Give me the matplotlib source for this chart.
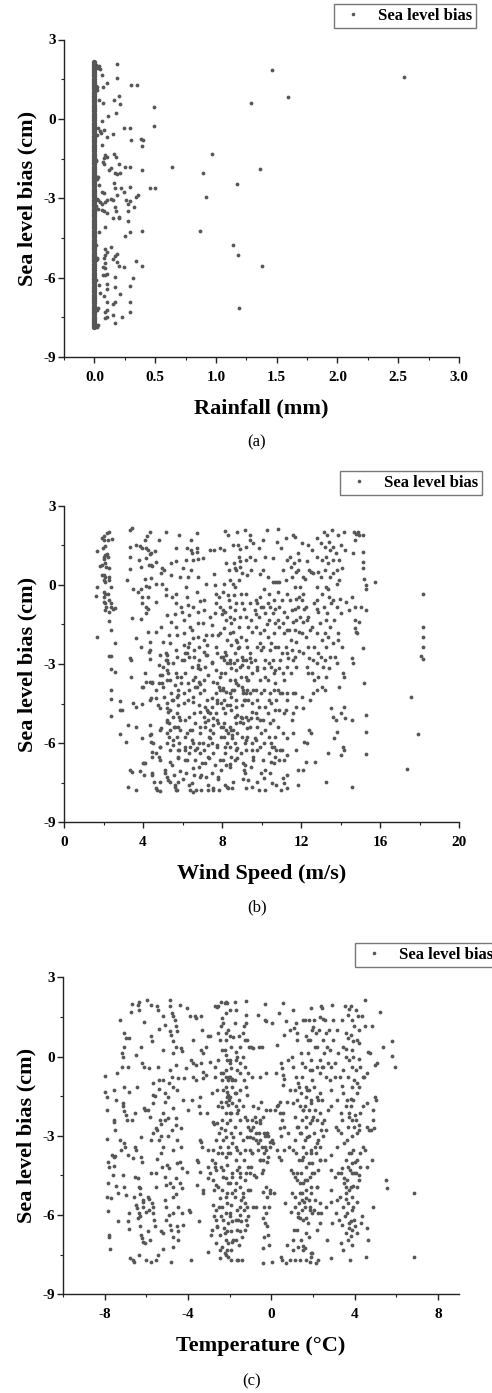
import matplotlib
matplotlib.use("Agg")
import matplotlib.pyplot as plt
from matplotlib.ticker import MultipleLocator, FormatStrFormatter
from matplotlib.lines import Line2D

plt.rcParams['font.family'] = ['Liberation Serif', 'DejaVu Serif']
plt.rcParams['axes.unicode_minus'] = False

# ---------------- data ----------------
# (a) hours with zero rainfall (sea level bias, cm)
rain_zero_y = [2.15, 2.08, 2.01, 1.93, 1.86, 1.77, 1.69, 1.61, 1.52, 1.45, 1.37, 1.28, 1.2, 1.12,
               1.03, 0.95, 0.87, 0.78, 0.7, 0.62, 0.53, 0.45, 0.37, 0.28, 0.2, 0.12, 0.03, -0.05,
               -0.14, -0.22, -0.3, -0.39, -0.47, -0.55, -0.64, -0.72, -0.8, -0.89, -0.97, -1.06,
               -1.14, -1.22, -1.31, -1.39, -1.47, -1.56, -1.64, -1.72, -1.81, -1.89, -1.97, -2.06,
               -2.13, -2.19, -2.24, -2.3, -2.38, -2.47, -2.55, -2.64, -2.72, -2.8, -2.89, -2.97,
               -3.05, -3.14, -3.22, -3.3, -3.39, -3.47, -3.55, -3.64, -3.72, -3.81, -3.89, -3.97,
               -4.06, -4.14, -4.22, -4.31, -4.39, -4.47, -4.56, -4.64, -4.72, -4.81, -4.89, -4.97,
               -5.06, -5.13, -5.2, -5.27, -5.33, -5.39, -5.47, -5.56, -5.64, -5.72, -5.81, -5.89,
               -5.97, -6.06, -6.14, -6.22, -6.31, -6.39, -6.47, -6.56, -6.64, -6.72, -6.81, -6.89,
               -6.97, -7.06, -7.14, -7.22, -7.31, -7.39, -7.47, -7.56, -7.64, -7.72, -7.8, -7.88]

# (a) hours with rainfall: (rainfall mm, bias cm)
rain_pts = [
    (0.01, 2.05), (0.02, 1.97), (0.03, 1.93), (0.04, 1.98), (0.05, 1.9), (0.01, 1.25), (0.02, -0.6),
    (0.01, -1.6), (0.02, -2.2), (0.02, -2.28), (0.01, -3.3), (0.01, -4.75), (0.02, -5.3), (0.01, -5.35),
    (0.01, -7.8), (0.02, -7.86), (0.01, -6.1),
    (0.19, 2.09), (0.06, 1.65), (0.19, 1.54), (0.1, 1.36), (0.07, 1.19), (0.02, 1.2), (0.02, 1.1),
    (0.3, 1.27), (0.35, 1.29), (0.2, 0.86), (0.16, 0.71), (0.04, 0.71), (0.07, 0.6), (0.21, 0.58),
    (1.46, 1.85), (2.55, 1.59), (1.59, 0.81), (1.29, 0.59), (0.49, 0.44), (0.49, -0.26), (0.97, -1.32),
    (0.64, -1.81), (1.36, -1.89), (0.89, -2.05), (1.17, -2.45), (0.46, -2.63), (0.5, -2.63),
    (0.92, -2.96), (0.87, -4.23), (1.14, -4.76), (1.18, -5.14), (1.38, -5.56), (1.19, -7.15),
    (0.18, 0.24), (0.11, 0.09), (0.06, -0.09), (0.08, -0.43), (0.03, -0.34), (0.05, -0.45),
    (0.055, -0.55), (0.24, -0.36), (0.29, -0.36), (0.15, -0.57), (0.1, -0.7), (0.3, -0.78),
    (0.38, -0.75), (0.4, -0.8), (0.06, -0.97), (0.39, -1.02), (0.09, -1.35), (0.1, -1.43),
    (0.08, -1.48), (0.16, -1.31), (0.18, -1.43), (0.07, -1.62), (0.08, -1.71), (0.01, -1.56),
    (0.2, -1.71), (0.25, -1.81), (0.29, -1.81), (0.39, -1.94), (0.12, -1.94), (0.14, -1.87),
    (0.17, -2.06), (0.19, -2.09), (0.21, -2.04), (0.03, -2.19), (0.04, -2.5), (0.16, -2.44),
    (0.22, -2.63), (0.24, -2.76), (0.17, -2.63), (0.29, -2.57), (0.06, -2.78), (0.08, -2.82),
    (0.19, -2.88), (0.14, -3.02), (0.15, -3.07), (0.26, -3.07), (0.29, -3.12), (0.28, -3.2),
    (0.34, -2.95), (0.36, -2.88), (0.02, -3.01), (0.03, -3.08), (0.09, -3.13), (0.1, -3.07),
    (0.05, -3.13), (0.06, -3.22), (0.33, -3.32), (0.17, -3.32), (0.18, -3.47), (0.06, -3.45),
    (0.08, -3.49), (0.03, -3.42), (0.1, -3.57), (0.15, -3.76), (0.2, -3.7), (0.2, -3.76),
    (0.28, -3.47), (0.28, -3.86), (0.09, -4.08), (0.29, -4.29), (0.39, -4.23), (0.04, -4.27),
    (0.25, -4.43), (0.14, -4.86), (0.09, -4.91), (0.1, -5.02), (0.19, -5.11), (0.17, -5.19),
    (0.09, -5.15), (0.08, -5.24), (0.02, -5.27), (0.15, -5.31), (0.19, -5.4), (0.2, -5.55),
    (0.09, -5.46), (0.24, -5.61), (0.34, -5.36), (0.39, -5.56), (0.07, -5.59), (0.09, -5.65),
    (0.17, -5.99), (0.32, -6.0), (0.07, -5.9), (0.09, -5.9), (0.1, -5.88), (0.04, -6.28),
    (0.1, -6.24), (0.1, -6.42), (0.17, -6.35), (0.29, -6.32), (0.05, -6.57), (0.08, -6.7),
    (0.21, -6.6), (0.29, -6.91), (0.17, -6.91), (0.15, -7.0), (0.1, -6.94), (0.03, -7.16),
    (0.02, -7.23), (0.1, -7.23), (0.09, -7.31), (0.29, -7.31), (0.15, -7.42), (0.1, -7.48),
    (0.09, -7.54), (0.23, -7.48), (0.17, -7.73), (0.03, -7.8), (0.01, -7.83),
]

# (b) wind speed (m/s), bias (cm)
wind_pts = [
    (1.6, -0.43), (1.67, -0.08), (1.69, 1.28), (1.67, -1.96), (1.8, 0.71), (1.9, 0.75), (1.94, 1.78),
    (2.03, 1.85), (2.0, 1.7), (1.98, 1.38), (2.06, 1.47), (2.0, 1.07), (2.1, 1.13), (2.03, 0.98),
    (2.08, 0.81), (2.15, 0.68), (1.9, 0.37), (2.0, 0.37), (2.1, 0.3), (2.0, 0.18), (2.06, 0.11),
    (2.0, -0.27), (2.06, -0.33), (2.03, -0.46), (2.03, -0.64), (2.1, -0.7), (2.15, -0.84),
    (2.1, -0.94), (2.2, 1.95), (2.3, 2.0), (2.23, 1.7), (2.45, 1.74), (2.23, 1.07), (2.18, 1.16),
    (2.26, 0.64), (2.3, 0.3), (2.26, 0.18), (2.36, -0.07), (2.25, -0.33), (2.3, -0.58), (2.36, -0.7),
    (2.4, -0.84), (2.48, -0.9), (2.28, -1.04), (2.3, -1.36), (2.4, -1.71), (2.3, -2.7), (2.4, -2.7),
    (2.4, -3.2), (2.4, -4.0), (2.4, -4.34), (2.4, -4.97), (2.57, -3.29), (2.57, -0.89), (2.6, -2.19),
    (2.82, -4.39), (2.95, -4.74), (2.86, -4.74), (2.86, -5.65), (3.12, -5.97), (3.2, 0.2),
    (3.23, -5.31), (3.23, -7.65), (3.33, 2.08), (3.46, 2.14), (3.33, 0.6), (3.33, 1.07), (3.36, 1.42),
    (3.36, -2.79), (3.4, -2.85), (3.38, -3.48), (3.36, -7.02), (3.46, -7.1), (3.5, -0.17),
    (3.46, -1.27), (3.5, -4.47), (3.67, 1.51), (3.67, -2.03), (3.67, -4.62), (3.67, -5.37),
    (3.63, -7.77), (3.75, -0.26), (3.8, 0.94), (3.84, 1.48), (3.95, 1.38), (3.92, 0.66), (3.89, -0.14),
    (3.95, -0.45), (3.97, -0.7), (3.92, -1.3), (3.92, -2.34), (3.97, -3.86), (3.97, -4.5),
    (3.95, -5.82), (3.84, -7.07),
    (4.04, -6.76), (4.12, -6.76), (4.04, -7.2), (4.12, 1.7), (4.22, 1.85), (4.17, 1.38), (4.26, 1.32),
    (4.14, 1.0), (4.09, 0.24), (4.17, -0.05), (4.14, -0.83), (4.26, -0.93), (4.17, -1.08),
    (4.12, -3.35), (4.17, -3.67), (4.26, -1.77), (4.26, -0.45), (4.29, -0.08), (4.37, 2.01),
    (4.34, 1.16), (4.43, 1.2), (4.39, 0.75), (4.31, 0.75), (4.48, 0.71), (4.39, 0.25), (4.37, -2.16),
    (4.34, -2.47), (4.37, -2.82), (4.37, -3.67), (4.46, -3.71), (4.39, -4.3), (4.37, -5.31),
    (4.39, -5.65), (4.43, -5.94), (4.51, -6.0), (4.48, -6.32), (4.48, -7.14), (4.54, -7.46),
    (4.59, 1.3), (4.65, 0.88), (4.65, 0.05), (4.68, -0.64), (4.68, -1.77), (4.68, -4.3),
    (4.65, -3.98), (4.68, -6.39), (4.68, -7.7), (4.81, 1.7), (4.81, -3.04), (4.81, -3.73),
    (4.86, -4.68), (4.86, -6.13), (4.81, -6.51), (4.86, -7.8), (4.9, 0.45), (4.93, -1.59),
    (4.93, -5.44), (4.98, 0.63), (5.05, 0.57), (4.98, 0.05), (5.02, -2.16), (4.98, -3.42),
    (5.02, -3.86), (5.07, -4.26), (5.1, -7.14), (5.14, 2.01), (5.15, -0.14), (5.14, -0.39),
    (5.19, -1.14), (5.15, -2.6), (5.24, -2.66), (5.19, -2.85), (5.27, -2.98), (5.22, -3.23),
    (5.27, -3.35), (5.19, -3.6), (5.22, -4.68), (5.27, -4.81), (5.24, -5.12), (5.32, -5.25),
    (5.24, -5.63), (5.32, -5.75), (5.27, -7.4), (5.35, -7.46), (5.35, -6.26), (5.35, -6.7),
    (5.39, -2.22), (5.4, 0.37), (5.44, 0.82), (5.44, -1.4), (5.47, -0.46), (5.44, -4.1),
    (5.49, -4.36), (5.52, -4.99), (5.56, -5.37), (5.52, -6.07), (5.56, -7.21), (5.61, -7.65),
    (5.66, -7.77), (5.66, 0.91), (5.66, 1.38), (5.69, -0.33), (5.69, -0.7), (5.69, -1.59),
    (5.73, -1.9), (5.69, -2.47), (5.66, -3.35), (5.74, -3.48), (5.78, -3.98), (5.74, -4.24),
    (5.78, -4.55), (5.74, -4.87), (5.83, -4.99), (5.78, -5.37), (5.86, -5.5), (5.74, -5.75),
    (5.83, -6.0), (5.81, -6.26), (5.78, -6.57), (5.86, -7.07), (5.78, -7.46), (5.83, 1.89),
    (5.86, 0.3), (5.9, -0.84), (5.95, -1.02), (5.95, -2.85), (5.9, -3.48),
    (6.03, 0.63), (6.06, -1.33), (6.08, -1.84), (6.08, -2.28), (6.11, -2.6), (6.06, -2.85),
    (6.11, -3.35), (6.06, -4.11), (6.11, -5.12), (6.15, -5.75), (6.11, -6.26), (6.15, -6.64),
    (6.2, -7.14), (6.17, 0.94), (6.23, 1.38), (6.28, 0.3), (6.25, -0.46), (6.28, -0.77),
    (6.32, -1.14), (6.33, -2.19), (6.28, -2.34), (6.32, -2.72), (6.33, -3.98), (6.28, -4.36),
    (6.33, -4.99), (6.37, -5.5), (6.37, -6.13), (6.33, -6.39), (6.33, -7.59), (6.4, -7.77),
    (6.45, 1.7), (6.45, 1.32), (6.5, 1.2), (6.54, 0.94), (6.45, 0.56), (6.54, -0.84), (6.5, -1.71),
    (6.54, -2.03), (6.57, -2.47), (6.5, -3.1), (6.54, -3.6), (6.62, -3.86), (6.54, -4.24),
    (6.57, -4.87), (6.62, -5.25), (6.54, -6.0), (6.62, -6.26), (6.62, -6.64), (6.59, -7.21),
    (6.67, -7.77), (6.71, 1.95), (6.74, 1.38), (6.71, 1.26), (6.79, 0.97), (6.79, 0.3),
    (6.74, -0.27), (6.79, -1.02), (6.79, -1.46), (6.79, -1.96), (6.82, -2.34), (6.82, -2.85),
    (6.79, -3.16), (6.88, -3.2), (6.84, -3.67), (6.91, -3.76), (6.88, -4.11), (6.84, -4.55),
    (6.88, -5.63), (6.84, -6.0), (6.88, -6.39), (6.82, -6.89), (6.93, -7.21), (6.96, -7.77),
    (7.05, 1.0), (7.08, -0.58), (7.09, -0.95), (7.05, -1.46), (7.08, -2.53), (7.13, -3.1),
    (7.09, -3.98), (7.13, -4.62), (7.08, -4.99), (7.13, -5.37), (7.09, -6.26), (7.13, -6.76),
    (7.18, -7.27), (7.18, 0.05), (7.21, -1.9), (7.25, -2.28), (7.21, -2.66), (7.3, -3.42),
    (7.25, -4.36), (7.3, -4.81), (7.38, -4.87), (7.3, -5.12), (7.35, -5.75), (7.3, -6.07),
    (7.35, -6.57), (7.3, -7.77), (7.38, 1.32), (7.47, -1.52), (7.47, -1.9), (7.5, -2.97),
    (7.47, -4.62), (7.52, -5.06), (7.55, -5.31), (7.55, -5.63), (7.5, -6.0), (7.55, -6.39),
    (7.47, -7.14), (7.55, -7.71), (7.58, 1.32), (7.64, -0.01), (7.69, -0.33), (7.72, -0.7),
    (7.64, -1.08), (7.69, -2.34), (7.72, -3.23), (7.75, -3.73), (7.85, -3.86), (7.72, -4.11),
    (7.77, -4.36), (7.72, -4.87), (7.8, -5.25), (7.75, -6.13), (7.8, -7.27), (7.84, -7.77),
    (7.85, -0.45), (7.89, -0.84), (7.92, -1.84), (7.97, -2.72), (7.94, -3.35), (7.92, -3.98),
    (7.97, -4.49), (7.94, -5.37), (7.97, -5.75), (7.92, -6.64), (7.97, -7.02),
    (8.06, -0.27), (8.09, 0.05), (8.14, 2.04), (8.11, 1.32), (8.19, 0.82), (8.06, -0.95),
    (8.14, -1.02), (8.18, -1.33), (8.09, -1.65), (8.23, -2.09), (8.14, -2.53), (8.19, -2.66),
    (8.09, -2.85), (8.23, -2.97), (8.14, -3.35), (8.06, -3.98), (8.18, -4.05), (8.09, -4.36),
    (8.23, -4.55), (8.14, -4.87), (8.09, -5.25), (8.19, -5.5), (8.11, -5.75), (8.23, -6.0),
    (8.14, -6.39), (8.19, -6.83), (8.14, -7.59), (8.28, -7.71), (8.31, 1.89), (8.36, 0.56),
    (8.39, 0.18), (8.36, -0.58), (8.39, -0.83), (8.43, -1.2), (8.48, -1.46), (8.39, -1.84),
    (8.45, -2.28), (8.39, -2.85), (8.48, -3.16), (8.43, -3.6), (8.39, -4.11), (8.48, -4.24),
    (8.45, -4.74), (8.39, -5.37), (8.48, -5.5), (8.51, -5.69), (8.39, -6.13), (8.48, -6.51),
    (8.39, -6.79), (8.53, -7.71), (8.56, 1.51), (8.6, 0.82), (8.65, 0.63), (8.73, 0.57),
    (8.56, 0.05), (8.65, -0.08), (8.6, -0.39), (8.7, -0.7), (8.65, -0.95), (8.56, -1.77),
    (8.7, -2.09), (8.77, -2.15), (8.65, -2.6), (8.6, -2.97), (8.7, -3.23), (8.65, -3.6),
    (8.73, -3.71), (8.6, -3.98), (8.7, -4.36), (8.73, -4.62), (8.65, -4.99), (8.7, -5.25),
    (8.77, -5.63), (8.65, -6.0), (8.73, -6.26), (8.65, -6.64), (8.77, 2.01), (8.82, 1.51),
    (8.9, 1.35), (8.87, 1.07), (8.9, 0.69), (8.99, 0.44), (8.87, 0.18), (8.94, -0.33),
    (8.99, -0.7), (8.9, -1.2), (8.87, -1.59), (8.94, -1.96), (8.87, -2.34), (8.99, -2.72),
    (9.04, -2.85), (8.9, -3.1), (8.94, -3.48), (8.99, -3.86), (9.04, -3.98), (9.07, -4.11),
    (9.12, -4.36), (8.99, -4.55), (8.94, -4.99), (9.02, -5.06), (9.07, -5.25), (8.99, -5.75),
    (8.94, -6.39), (9.04, -6.76), (9.12, -7.02), (9.16, -7.12), (9.21, -7.71), (9.16, 2.08),
    (9.21, 1.45), (9.24, 0.94), (9.27, 0.37), (9.24, -0.33), (9.21, -1.2), (9.32, -1.59),
    (9.24, -2.09), (9.29, -2.34), (9.21, -2.85), (9.32, -3.1), (9.24, -3.48), (9.32, -3.6),
    (9.27, -3.98), (9.21, -4.11), (9.32, -4.36), (9.24, -4.99), (9.32, -5.12), (9.27, -5.75),
    (9.21, -5.88), (9.24, -6.26), (9.32, -7.4), (9.41, 1.7), (9.44, 1.07), (9.49, 0.56),
    (9.41, -0.7), (9.49, -1.33), (9.44, -2.6), (9.49, -2.91), (9.54, -3.35), (9.44, -4.11),
    (9.54, -4.49), (9.49, -5.06), (9.44, -5.37), (9.54, -6.0), (9.58, -6.51), (9.49, -6.89),
    (9.58, 1.57), (9.66, 0.94), (9.71, -0.58), (9.78, -0.7), (9.66, -0.95), (9.71, -1.59),
    (9.75, -2.34), (9.66, -2.85), (9.75, -3.23), (9.71, -3.98), (9.78, -4.36), (9.71, -4.87),
    (9.75, -5.37), (9.71, -5.88), (9.78, -6.26), (9.75, -7.46), (9.88, -7.77), (9.88, 1.38),
    (9.91, -0.46), (9.95, -0.84), (9.88, -1.2), (9.91, -1.84), (9.97, -2.47), (9.91, -3.6),
    (9.95, -4.11), (9.88, -4.62), (9.91, -5.12), (9.97, -5.63), (9.91, -6.13), (9.95, -7.14),
    (10.08, 1.7), (10.17, 1.07), (10.08, 0.56), (10.14, -0.14), (10.08, -0.84), (10.17, -1.08),
    (10.12, -1.71), (10.08, -2.34), (10.17, -2.85), (10.12, -3.16), (10.2, -3.48), (10.12, -3.98),
    (10.17, -4.62), (10.08, -5.12), (10.17, -5.5), (10.14, -6.0), (10.08, -6.64), (10.2, -7.02),
    (10.14, -7.33), (10.2, -7.77), (10.3, 2.08), (10.34, 0.3), (10.39, -0.33), (10.34, -0.7),
    (10.42, -0.84), (10.39, -1.33), (10.34, -1.96), (10.42, -2.47), (10.39, -2.97), (10.46, -3.1),
    (10.34, -3.6), (10.42, -4.11), (10.39, -4.36), (10.46, -4.49), (10.34, -4.87), (10.42, -5.25),
    (10.39, -5.75), (10.46, -6.0), (10.51, -6.13), (10.39, -6.39), (10.46, -6.7), (10.42, -7.14),
    (10.51, -7.52), (10.59, 0.12), (10.68, 0.12), (10.64, -0.58), (10.59, -1.08), (10.68, -1.46),
    (10.64, -1.84), (10.68, -2.34), (10.59, -2.85), (10.68, -3.23), (10.64, -3.35), (10.68, -3.73),
    (10.64, -3.98), (10.73, -4.36), (10.68, -4.74), (10.59, -5.12), (10.68, -5.75), (10.64, -6.13),
    (10.73, -6.26), (10.68, -6.51), (10.64, -6.76), (10.73, -7.59), (10.84, 2.11), (10.81, 1.64),
    (10.79, 0.12), (10.9, 0.12), (10.84, -0.27), (10.9, -0.84), (10.84, -1.33), (10.9, -1.59),
    (10.84, -2.34), (10.93, -2.85), (10.9, -3.16), (10.84, -3.98), (10.93, -4.11), (10.9, -4.74),
    (10.84, -5.37), (10.93, -6.26), (10.9, -6.64), (11.01, -7.77), (11.01, 1.38), (11.1, 0.56),
    (11.06, -0.58), (11.13, -1.02), (11.1, -1.46), (11.13, -1.84), (11.06, -2.6), (11.1, -3.35),
    (11.13, -3.6), (11.06, -4.11), (11.13, -4.87), (11.1, -5.63), (11.06, -6.26), (11.13, -6.64),
    (11.1, -7.33), (11.15, -7.5), (11.24, 1.77), (11.27, 0.94), (11.24, 0.18), (11.3, -0.33),
    (11.27, -1.2), (11.3, -1.71), (11.24, -2.34), (11.27, -2.6), (11.33, -2.79), (11.3, -3.1),
    (11.27, -4.11), (11.3, -4.36), (11.24, -4.74), (11.3, -5.82), (11.27, -6.45), (11.3, -7.2),
    (11.27, -7.71), (11.42, 1.07), (11.47, 0.69), (11.52, 0.3), (11.42, -0.58), (11.52, -0.95),
    (11.57, -1.39), (11.47, -2.09), (11.52, -2.47), (11.57, -2.85), (11.47, -3.35), (11.61, -4.11),
    (11.57, -4.87), (11.52, -5.12), (11.57, -5.63), (11.61, 1.89), (11.69, 1.83), (11.64, 0.82),
    (11.74, 0.5), (11.69, -0.08), (11.74, -0.52), (11.69, -0.9), (11.77, -1.33), (11.69, -1.71),
    (11.77, -2.15), (11.69, -2.72), (11.74, -3.1), (11.69, -4.11), (11.77, -4.62), (11.74, -6.26),
    (11.86, 1.2), (11.91, 0.94), (11.86, 0.56), (11.94, -0.08), (11.91, -0.45), (11.86, -0.83),
    (11.94, -1.2), (11.91, -1.77), (11.86, -7.02), (11.86, -7.59),
    (12.03, 1.57), (12.08, 0.3), (12.11, -0.33), (12.03, -0.58), (12.15, -0.9), (12.08, -1.39),
    (12.03, -1.84), (12.08, -2.6), (12.03, -4.24), (12.11, -4.68), (12.15, -5.94), (12.08, -7.02),
    (12.2, 0.24), (12.25, -0.83), (12.28, -1.33), (12.25, -1.96), (12.28, -3.1), (12.3, -6.0),
    (12.25, -6.7), (12.37, 1.51), (12.42, 0.56), (12.49, 0.5), (12.37, -1.2), (12.45, -1.71),
    (12.37, -2.34), (12.42, -2.79), (12.37, -3.35), (12.45, -4.36), (12.42, -5.5), (12.49, -5.63),
    (12.58, 1.32), (12.62, 0.44), (12.64, -0.7), (12.58, -1.59), (12.64, -2.34), (12.62, -2.85),
    (12.58, -3.35), (12.64, -3.6), (12.62, -4.11), (12.71, -6.7), (12.79, 1.77), (12.82, 1.07),
    (12.86, 0.5), (12.82, -0.08), (12.79, -0.58), (12.86, -1.02), (12.82, -1.84), (12.86, -2.6),
    (12.79, -2.97), (12.86, -3.48), (12.82, -3.98), (13.0, 1.57), (13.04, 0.94), (13.0, 0.3),
    (13.04, -0.33), (12.96, -1.46), (13.04, -2.09), (13.0, -2.72), (13.09, -3.1), (13.04, -3.86),
    (13.16, 2.01), (13.21, 1.45), (13.26, 1.07), (13.21, 0.56), (13.26, -0.08), (13.16, -0.83),
    (13.26, -1.33), (13.21, -1.84), (13.29, -2.34), (13.21, -2.85), (13.26, -3.48), (13.21, -3.98),
    (13.26, -7.46), (13.38, -6.39), (13.33, 1.89), (13.43, 1.64), (13.46, 1.32), (13.38, 0.82),
    (13.46, 0.3), (13.38, -0.14), (13.43, -0.45), (13.33, -1.08), (13.46, -1.59), (13.38, -1.96),
    (13.46, -2.72), (13.43, -3.16), (13.5, -4.68), (13.55, 2.08), (13.6, 1.45), (13.63, 0.94),
    (13.6, 0.44), (13.63, -0.58), (13.67, -1.33), (13.6, -2.22), (13.72, -2.72), (13.63, -4.99),
    (13.67, -5.82), (13.77, 1.2), (13.8, 0.56), (13.84, 0.05), (13.8, -0.83), (13.89, -1.84),
    (13.89, -2.09), (13.84, -2.97), (13.77, -5.12), (13.8, -5.56), (13.89, 1.89), (13.94, 0.94),
    (13.94, 0.18), (13.97, -0.52), (13.94, -3.86),
    (14.05, 1.51), (14.1, 0.63), (14.05, -1.08), (14.1, -2.34), (14.14, -3.35), (14.05, -4.87),
    (14.0, -6.45), (14.14, -6.13), (14.17, -6.26), (14.17, 2.01), (14.22, 1.32), (14.19, -4.62),
    (14.22, -5.06), (14.27, -0.64), (14.17, -3.48), (14.43, -0.95), (14.56, -0.45), (14.6, -2.79),
    (14.65, -2.97), (14.56, -7.65), (14.6, -5.12), (14.68, 2.01), (14.78, 1.92), (14.65, 1.2),
    (14.75, 1.7), (14.75, -0.83), (14.75, -1.65), (14.78, -1.77), (14.75, -1.33), (14.83, -1.84),
    (14.91, 2.01), (14.94, 1.89), (14.94, -1.39), (15.02, -0.83), (15.14, 1.89), (15.14, 1.26),
    (15.14, 0.88), (15.14, 0.63), (15.17, 0.24), (15.14, -2.41), (15.17, -3.73), (15.27, -0.14),
    (15.27, -0.95), (15.27, -4.93), (15.27, -5.56), (15.27, -6.41), (15.27, -0.01), (15.74, 0.12),
    (18.2, -0.35), (18.2, -1.59), (18.2, -1.99), (18.2, -2.34), (18.07, -2.68), (18.17, -2.81),
    (17.55, -4.24), (17.94, -5.66), (17.35, -6.98),
    # denser core, lower half
    (4.32, -2.53), (4.86, -2.66), (5.17, -2.85), (5.03, -3.1), (5.54, -2.98), (5.71, -2.72),
    (6.21, -2.6), (6.58, -2.72), (6.8, -3.04), (7.23, -2.66), (7.48, -2.91), (7.73, -2.6),
    (8.07, -2.72), (8.41, -2.98), (8.75, -2.85), (9.0, -3.04), (9.42, -2.79), (9.76, -3.1),
    (4.44, -3.67), (4.86, -3.42), (4.95, -3.73), (5.37, -3.61), (5.62, -3.8), (5.91, -3.73),
    (6.3, -3.73), (6.64, -3.48), (6.72, -3.86), (7.09, -3.61), (7.56, -3.67), (7.9, -3.48),
    (8.07, -3.92), (8.49, -3.99), (8.83, -3.8), (9.25, -3.61), (9.59, -3.99), (4.02, -3.89),
    (4.36, -4.37), (4.78, -4.55), (5.2, -4.49), (5.37, -4.74), (5.54, -4.37), (5.79, -4.18),
    (6.08, -4.49), (6.55, -4.43), (6.89, -4.81), (7.23, -4.74), (7.48, -4.3), (7.73, -4.49),
    (8.07, -4.68), (8.41, -4.55), (8.75, -4.93), (9.17, -4.37), (9.5, -4.81), (9.76, -5.06),
    (4.86, -5.5), (5.2, -5.19), (5.37, -5.5), (5.62, -5.38), (5.88, -5.12), (6.21, -5.63),
    (6.47, -5.5), (6.89, -5.38), (7.14, -5.19), (7.4, -5.5), (7.73, -5.12), (8.07, -5.38),
    (8.32, -5.63), (8.58, -5.5), (8.91, -5.19), (9.25, -5.44), (9.67, -5.82), (4.36, -5.69),
    (4.86, -6.13), (5.2, -6.01), (5.54, -5.88), (5.79, -6.26), (6.13, -6.13), (6.47, -5.88),
    (6.72, -6.2), (7.06, -6.01), (7.4, -5.82), (7.73, -6.07), (8.15, -6.13), (8.49, -5.82),
    (8.75, -6.2), (9.17, -6.01), (9.5, -6.26), (4.02, -6.77), (4.44, -6.51), (4.86, -6.64),
    (5.12, -7.02), (5.45, -6.83), (5.79, -6.51), (6.21, -6.64), (6.55, -6.96), (6.97, -6.77),
    (7.31, -6.51), (7.65, -6.83), (8.07, -6.64), (8.41, -6.89), (8.75, -6.58), (9.17, -6.83),
    (9.59, -6.64), (4.44, -7.21), (4.86, -7.46), (5.2, -7.27), (5.62, -7.59), (6.04, -7.34),
    (6.47, -7.52), (6.89, -7.27), (7.31, -7.59), (7.82, -7.34), (8.24, -7.65), (8.58, -7.46),
    (9.08, -7.34), (9.5, -7.65), (4.69, -7.78), (5.71, -7.78), (6.55, -7.84), (7.56, -7.78),
    # denser core, upper half
    (6.9, -0.6), (7.4, -1.2), (7.8, -1.9), (8.3, -0.4), (8.6, -1.3), (9.1, -0.9), (9.5, -1.8),
    (9.9, -2.2), (10.3, -1.5), (10.7, -0.9), (7.1, -2.1), (8.0, -1.1), (8.8, -2.4), (9.7, -1.1),
    (10.5, -2.2), (6.4, -1.6), (5.6, -1.1), (5.3, -1.9), (11.4, -1.7), (11.9, -2.5), (6.2, -0.1),
    (7.6, 0.4), (8.9, 0.9), (9.9, 0.4), (10.6, 1.0), (12.3, 0.9), (12.8, -0.9), (13.5, -0.7),
    (7.9, 1.4), (9.4, 1.9),
]

# (c) temperature (degC), bias (cm)
temp_pts = [
    (-8.0, -0.73), (-7.97, -1.36), (-7.9, -1.55), (-7.9, -2.02), (-7.9, -3.12), (-7.86, -3.98),
    (-7.86, -4.8), (-7.9, -5.3), (-7.86, -5.83), (-7.8, -6.75), (-7.78, -6.82), (-7.74, -7.3),
    (-7.78, -4.17), (-7.7, -5.37), (-7.65, -3.73), (-7.56, -3.82), (-7.5, -3.78), (-7.53, -4.14),
    (-7.62, -4.49), (-7.56, -1.26), (-7.44, -1.64), (-7.56, -2.4), (-7.53, -2.46), (-7.5, -2.78),
    (-7.44, -4.9), (-7.34, -5.15), (-7.39, -0.63), (-7.34, -6.24), (-7.28, 1.39), (-7.28, -3.15),
    (-7.23, -3.53), (-7.18, 0.13), (-7.12, 0.0), (-7.18, -0.38), (-7.05, 0.88), (-7.0, 0.69),
    (-7.05, 0.38), (-7.05, -1.14), (-7.13, -1.77), (-7.1, -1.89), (-7.05, -2.08), (-7.0, -2.21),
    (-7.08, -3.28), (-7.03, -3.41), (-7.1, -4.49), (-7.05, -4.93), (-7.0, -5.24),
    (-6.94, -2.4), (-6.9, -0.38), (-6.85, 0.69), (-6.85, -1.33), (-6.9, -3.72), (-6.85, -5.94),
    (-6.9, -6.24), (-6.82, -6.52), (-6.79, -7.61), (-6.73, 1.7), (-6.69, -2.4), (-6.66, -3.85),
    (-6.66, -7.72), (-6.58, -7.78), (-6.53, -3.41), (-6.5, -3.53), (-6.53, -4.55), (-6.58, -5.3),
    (-6.5, -5.62), (-6.46, -5.74), (-6.53, -2.14), (-6.46, -1.15), (-6.5, 0.07), (-6.42, 1.96),
    (-6.37, 1.76), (-6.42, -4.61), (-6.37, -4.93), (-6.31, -4.99), (-6.34, -5.94), (-6.31, -6.05),
    (-6.31, -6.43), (-6.26, -6.75), (-6.21, -6.87), (-6.34, -7.53), (-6.26, 0.38), (-6.21, -0.25),
    (-6.26, -3.04), (-6.26, -3.82), (-6.18, -5.43), (-6.15, -5.52), (-6.15, -5.68), (-6.1, -1.96),
    (-6.05, -2.02), (-6.1, -0.38), (-6.1, 1.29), (-6.15, -7.01), (-6.05, -7.07), (-6.02, -7.7),
    (-6.67, 1.98), (-6.35, 2.06),
    (-5.97, 2.14), (-5.94, -2.02), (-5.94, -5.3), (-5.86, -5.4), (-5.88, -5.81), (-5.86, -0.44),
    (-5.83, -2.27), (-5.78, 1.96), (-5.78, 0.76), (-5.73, 0.57), (-5.78, -3.15), (-5.83, -6.95),
    (-5.78, -7.78), (-5.73, -5.55), (-5.67, -5.68), (-5.7, -1.01), (-5.67, -1.46), (-5.7, -1.77),
    (-5.67, -2.9), (-5.67, -5.94), (-5.62, -6.17), (-5.54, -2.71), (-5.5, -2.78), (-5.56, -4.42),
    (-5.54, -4.93), (-5.54, -7.7), (-5.5, -3.89), (-5.45, -7.51), (-5.5, 1.9), (-5.45, 1.77),
    (-5.45, -0.38), (-5.4, -0.88), (-5.37, 1.04), (-5.37, -1.21), (-5.34, -2.4), (-5.29, -2.55),
    (-5.37, -3.15), (-5.29, -3.66), (-5.24, -4.17), (-5.29, -6.62), (-5.21, -6.69), (-5.21, 1.52),
    (-5.18, 0.26), (-5.21, -0.88), (-5.13, -1.39), (-5.13, -1.71), (-5.18, -2.14), (-5.13, -2.4),
    (-5.18, -3.41), (-5.13, -4.55), (-5.08, -4.87), (-5.13, -5.43), (-5.05, -5.68), (-5.05, -6.17),
    (-4.97, -1.52), (-4.97, -2.33), (-4.97, -3.02), (-4.89, 2.14), (-4.86, 1.9), (-4.89, 0.95),
    (-4.84, 0.82), (-4.86, -0.51), (-4.92, -4.23), (-4.89, -4.8), (-4.86, -6.37), (-4.81, -6.56),
    (-4.81, -7.78), (-4.76, 1.64), (-4.7, 1.52), (-4.73, 0.13), (-4.76, -0.76), (-4.73, -1.14),
    (-4.7, -1.96), (-4.76, -2.78), (-4.73, -3.53), (-4.7, -4.93), (-4.73, -5.3), (-4.7, -5.94),
    (-4.73, -6.82), (-4.73, -7.2), (-4.62, 1.39), (-4.57, 1.14), (-4.54, 0.95), (-4.57, 0.38),
    (-4.57, -0.32), (-4.54, -1.27), (-4.57, -2.33), (-4.54, -3.15), (-4.54, -4.04), (-4.57, -4.61),
    (-4.5, -5.68), (-4.54, -6.43), (-4.46, -6.62), (-4.5, -6.95), (-4.38, 1.96), (-4.35, 0.32),
    (-4.46, -0.82), (-4.35, -2.71), (-4.38, -3.98), (-4.32, -3.41), (-4.27, -4.23), (-4.27, -5.94),
    (-4.27, 0.2), (-4.19, -0.82), (-4.22, -1.64), (-4.27, -4.99), (-4.22, -6.37), (-4.11, -0.44),
    (-4.06, 1.83), (-4.03, -4.36), (-4.0, -2.02),
    (-6.3, -5.2), (-6.0, -5.9), (-5.6, -6.4), (-6.4, -6.1), (-5.9, -6.6), (-4.9, -6.0), (-4.6, -5.2),
    (-5.2, -7.3), (-4.7, 0.6), (-5.1, 1.2), (-4.9, -1.0), (-5.6, -1.5), (-5.3, -3.0), (-4.6, -2.6),
    (-6.2, -4.0), (-5.8, -4.4), (-5.0, -4.1), (-4.4, -4.8),
    (-3.93, 1.52), (-3.96, -5.81), (-3.93, -5.87), (-3.85, -7.7), (-3.85, -0.13), (-3.8, -1.64),
    (-3.77, 0.63), (-3.74, -0.25), (-3.77, -0.76), (-3.69, 1.52), (-3.61, 1.45), (-3.64, -0.32),
    (-3.61, -0.88), (-3.58, -3.91), (-3.53, -4.0), (-3.56, -4.87), (-3.48, -6.24), (-3.48, -1.89),
    (-3.45, -1.52), (-3.45, -3.15), (-3.4, -3.22), (-3.45, -4.36), (-3.45, -2.14), (-3.37, -0.25),
    (-3.37, 1.52), (-3.32, 1.01), (-3.37, 0.26), (-3.29, 0.13), (-3.29, -0.57), (-3.26, -0.82),
    (-3.32, -3.41), (-3.29, -5.06), (-3.26, -5.18), (-3.16, 0.38), (-3.13, -0.7), (-3.1, -2.14),
    (-3.05, 0.76), (-3.05, -3.53), (-3.05, -4.17), (-3.05, -4.61), (-3.05, -7.39),
    (-2.96, -0.19), (-2.93, 0.76), (-2.93, -4.42), (-2.88, -6.75), (-2.84, -1.39), (-2.8, -2.46),
    (-2.77, -2.55), (-2.8, -3.53), (-2.84, -3.91), (-2.8, -4.68), (-2.77, -5.06), (-2.8, -5.62),
    (-2.77, -6.05), (-2.84, -6.56), (-2.72, 1.9), (-2.72, -0.38), (-2.72, -0.76), (-2.66, -3.15),
    (-2.72, -4.17), (-2.64, -4.29), (-2.64, -4.87), (-2.66, -5.81), (-2.64, -6.17), (-2.61, -6.43),
    (-2.64, -7.07), (-2.56, 1.9), (-2.56, 0.88), (-2.56, -1.89), (-2.51, -2.9), (-2.56, -3.66),
    (-2.48, -5.37), (-2.51, -5.68), (-2.48, -6.75), (-2.45, -7.64), (-2.4, 2.08), (-2.35, 1.45),
    (-2.4, 1.14), (-2.35, 0.26), (-2.4, -0.63), (-2.35, -0.88), (-2.32, -1.27), (-2.4, -1.71),
    (-2.35, -2.4), (-2.4, -2.71), (-2.32, -3.15), (-2.35, -3.66), (-2.4, -4.17), (-2.32, -4.55),
    (-2.35, -5.06), (-2.4, -6.05), (-2.32, -6.17), (-2.29, -6.5), (-2.35, -7.2), (-2.24, -7.45),
    (-2.2, 2.08), (-2.12, 2.01), (-2.17, 1.64), (-2.2, 0.88), (-2.17, 0.63), (-2.2, 0.07),
    (-2.13, -0.13), (-2.2, -0.51), (-2.17, -0.76), (-2.09, -0.88), (-2.2, -1.14), (-2.13, -1.33),
    (-2.07, -1.46), (-2.17, -1.71), (-2.09, -1.83), (-2.2, -2.14), (-2.12, -2.52), (-2.17, -3.04),
    (-2.09, -3.41), (-2.17, -3.79), (-2.12, -4.1), (-2.17, -4.61), (-2.07, -4.8), (-2.17, -5.3),
    (-2.12, -5.55), (-2.17, -5.94), (-2.09, -6.3), (-2.13, -6.62), (-2.17, -6.95), (-2.07, -7.07),
    (-2.12, -7.33), (-2.17, -7.51), (-2.04, -0.76), (-2.04, -1.64),
    (-2.63, 1.89), (-2.23, 2.02), (-1.99, 1.76), (-2.31, 1.26), (-2.07, 1.01), (-2.47, 0.63),
    (-1.83, 0.75), (-2.23, 0.25), (-2.55, -0.13), (-1.99, -0.26), (-1.67, 0.0), (-2.31, -0.63),
    (-1.91, -0.89), (-2.63, -1.27), (-2.15, -1.52), (-1.75, -1.39), (-2.39, -1.9), (-1.99, -2.15),
    (-1.59, -2.02), (-2.63, -2.53), (-2.23, -2.78), (-1.83, -3.03), (-2.47, -3.41), (-2.07, -3.66),
    (-1.67, -3.54), (-2.71, -4.04), (-2.31, -4.29), (-1.91, -4.55), (-1.51, -4.42), (-2.55, -4.92),
    (-2.15, -5.18), (-1.75, -5.05), (-1.35, -5.3), (-2.39, -5.68), (-1.99, -5.93), (-1.59, -6.19),
    (-2.63, -6.44), (-2.23, -6.69), (-1.83, -6.94), (-1.43, -6.82), (-2.47, -7.32), (-2.07, -7.57),
    (-1.67, -7.7),
    (-1.97, 0.76), (-1.92, 0.38), (-1.97, -0.13), (-1.92, -0.44), (-1.97, -0.76), (-1.91, -0.86),
    (-1.88, -1.14), (-1.97, -1.52), (-1.91, -1.77), (-1.94, -2.14), (-1.99, -2.4), (-1.92, -2.9),
    (-1.88, -3.28), (-1.97, -3.66), (-1.91, -4.42), (-1.97, -4.8), (-1.88, -5.18), (-1.94, -5.62),
    (-1.99, -6.05), (-1.91, -6.24), (-1.94, -6.62), (-1.88, -7.01), (-1.94, -7.33), (-1.92, -7.7),
    (-1.76, 2.08), (-1.71, 1.77), (-1.76, 1.27), (-1.68, 0.19), (-1.71, -0.13), (-1.65, -0.51),
    (-1.75, -0.88), (-1.68, -1.39), (-1.71, -1.89), (-1.65, -2.14), (-1.75, -2.65), (-1.68, -3.41),
    (-1.71, -3.91), (-1.65, -4.29), (-1.68, -4.8), (-1.75, -5.3), (-1.65, -5.81), (-1.71, -6.17),
    (-1.65, -6.56), (-1.71, -6.95), (-1.6, -7.7), (-1.55, 0.76), (-1.52, 0.38), (-1.49, -0.25),
    (-1.52, -0.63), (-1.49, -1.27), (-1.55, -1.64), (-1.49, -2.4), (-1.52, -2.9), (-1.49, -3.66),
    (-1.55, -4.17), (-1.49, -4.55), (-1.52, -4.93), (-1.44, -5.43), (-1.49, -5.68), (-1.52, -5.99),
    (-1.44, -6.24), (-1.49, -6.62), (-1.55, -7.14), (-1.39, -7.7), (-1.36, 0.88), (-1.33, 1.14),
    (-1.28, 0.63), (-1.36, 0.0), (-1.28, -0.38), (-1.33, -0.88), (-1.24, -1.14), (-1.36, -1.89),
    (-1.28, -2.27), (-1.36, -3.15), (-1.28, -3.53), (-1.33, -3.91), (-1.28, -4.68), (-1.36, -5.18),
    (-1.28, -5.55), (-1.33, -5.81), (-1.24, -6.17), (-1.28, -6.56), (-1.2, 2.11), (-1.23, 1.58),
    (-1.2, 1.27), (-1.17, 0.63), (-1.12, -0.63), (-1.17, -1.46), (-1.12, -2.65), (-1.17, -3.04),
    (-1.2, -4.42), (-1.12, -5.06), (-1.17, -5.68), (-1.12, -6.05), (-1.17, -6.37), (-1.07, 0.38),
    (-1.04, -2.78), (-1.01, -3.53), (-1.04, -4.42), (-1.01, -5.06),
    (-1.19, -2.4), (-0.87, -2.65), (-0.55, -2.53), (-0.23, -2.91), (-1.03, -3.03), (-0.63, -3.28),
    (-0.31, -3.41), (0.01, -3.16), (-0.95, -3.66), (-0.55, -3.91), (-0.15, -3.79), (0.25, -3.54),
    (-0.39, -4.29), (-1.11, -4.17),
    (-0.96, 0.38), (-0.88, 0.32), (-0.91, -0.76), (-0.88, -1.89), (-0.91, -2.4), (-0.96, -2.78),
    (-0.88, -3.09), (-0.91, -3.66), (-0.96, -4.17), (-0.85, -4.49), (-0.88, -5.68), (-0.8, -2.27),
    (-0.75, -2.46), (-0.72, -2.9), (-0.75, -3.15), (-0.72, -4.55), (-0.72, -5.68), (-0.64, 1.58),
    (-0.59, 0.38), (-0.56, -0.76), (-0.64, -1.96), (-0.56, -2.4), (-0.59, -2.9), (-0.53, -3.15),
    (-0.64, -3.53), (-0.56, -3.91), (-0.48, -1.71), (-0.43, 0.38), (-0.4, -2.27), (-0.37, -2.9),
    (-0.32, -3.0), (-0.43, -3.41), (-0.37, -3.66), (-0.4, -3.91), (-0.43, -4.42), (-0.4, -5.12),
    (-0.35, -5.68), (-0.4, -6.11), (-0.32, -6.3), (-0.37, -6.82), (-0.4, -7.26), (-0.4, -7.83),
    (-0.29, 1.99), (-0.32, 1.39), (-0.24, 1.33), (-0.27, -0.63), (-0.24, -2.02), (-0.21, -2.9),
    (-0.16, -3.02), (-0.24, -3.53), (-0.19, -3.98), (-0.24, -4.93), (-0.21, -5.3), (-0.24, -5.94),
    (-0.21, -6.43), (-0.16, -6.75), (-0.11, -7.14), (-0.08, -3.22), (-0.05, -3.41), (-0.08, -2.02),
    (-0.05, -5.06), (-0.05, -5.18), (-0.11, -5.68),
    (0.05, 1.27), (0.05, -7.78), (0.08, -3.28), (0.11, -5.18), (0.16, -2.02), (0.24, -0.63),
    (0.27, 0.45), (0.27, -1.89), (0.32, -1.83), (0.37, -3.79), (0.4, -1.71), (0.43, -2.14),
    (0.43, -2.71), (0.37, 1.64), (0.48, -0.25), (0.53, -0.44), (0.48, -3.02), (0.48, -3.91),
    (0.48, -7.58), (0.53, -7.7), (0.56, 2.01), (0.56, -0.7), (0.59, -0.86), (0.56, -1.07),
    (0.59, 0.82), (0.56, -2.14), (0.53, -2.4), (0.59, -2.65), (0.64, -5.55), (0.59, -3.53),
    (0.69, 1.33), (0.72, -7.83), (0.75, -7.14), (0.75, -1.71), (0.8, -2.9), (0.8, -0.13),
    (0.85, -3.41), (0.88, 1.01), (0.91, -1.27), (0.91, -7.7), (0.96, -4.29), (0.96, -5.87),
    (1.04, -7.33), (1.04, -4.42), (1.07, 1.08), (1.04, -0.38), (1.07, -6.56), (1.12, -1.27),
    (1.12, -2.27), (1.12, -3.15), (1.14, -4.55), (1.12, -5.3), (1.12, -7.7), (1.2, 1.27),
    (1.23, 0.63), (1.2, -0.76), (1.23, -1.64), (1.28, -2.65), (1.2, -3.66), (1.23, -4.68),
    (1.15, -5.68), (1.28, -5.94), (1.23, -6.56), (1.28, -7.2), (1.33, -1.14), (1.36, -1.89),
    (1.39, -2.9), (1.33, -3.91), (1.39, -4.8), (1.36, -5.18), (1.33, -5.55), (1.36, -6.11),
    (1.44, -6.95), (1.39, -7.7), (1.44, 0.13), (1.49, -0.76), (1.44, -1.39), (1.52, -2.02),
    (1.49, -2.4), (1.44, -2.9), (1.52, -3.41), (1.49, -3.91), (1.44, -4.42), (1.52, -4.8),
    (1.49, -5.18), (1.55, -5.49), (1.46, -5.81), (1.52, -6.17), (1.52, -7.33), (1.6, 1.39),
    (1.65, 0.76), (1.6, -0.38), (1.65, -1.14), (1.68, -1.52), (1.6, -1.89), (1.68, -2.27),
    (1.65, -2.65), (1.6, -3.15), (1.68, -3.66), (1.65, -4.17), (1.6, -4.68), (1.68, -5.06),
    (1.65, -5.37), (1.6, -5.68), (1.68, -6.11), (1.65, -6.69), (1.6, -7.26), (1.68, -7.7),
    (1.81, 1.39), (1.84, 0.63), (1.76, 0.13), (1.84, -0.51), (1.81, -1.27), (1.88, -1.64),
    (1.81, -2.02), (1.84, -2.52), (1.81, -3.02), (1.88, -3.53), (1.81, -4.04), (1.84, -4.55),
    (1.88, -4.93), (1.81, -5.43), (1.84, -5.81), (1.81, -6.82), (1.88, -7.45), (1.84, -7.78),
    (1.92, 1.83), (1.97, 1.01), (1.92, -0.13), (1.97, -0.88), (1.92, -1.77), (1.97, -2.4),
    (1.92, -3.66), (1.97, -4.42), (1.92, -5.18), (1.97, -5.94), (1.92, -7.58),
    (1.05, 1.76), (1.53, 1.38), (2.01, 1.13), (2.33, 1.51), (1.21, 0.88), (1.77, 0.63), (2.17, 0.37),
    (0.97, 0.0), (1.45, -0.26), (1.93, -0.51), (2.41, -0.38), (1.29, -1.01), (1.69, -1.27),
    (2.17, -1.52), (1.05, -1.77), (1.53, -2.02), (2.01, -2.27), (2.41, -2.53), (1.21, -2.65),
    (1.69, -3.03), (2.17, -3.28), (1.05, -3.54), (1.53, -3.79), (1.93, -4.04), (2.33, -3.91),
    (1.21, -4.42), (1.69, -4.67), (2.17, -4.92), (0.97, -5.18), (1.45, -5.43), (1.85, -5.68),
    (2.33, -5.55), (1.29, -6.06), (1.77, -6.31), (2.17, -6.56), (1.05, -6.94), (1.53, -7.19),
    (1.93, -7.45), (2.25, -7.7),
    (2.04, 1.39), (2.08, 0.38), (2.04, -1.14), (2.08, -2.02), (2.04, -2.9), (2.08, -3.41),
    (2.04, -4.42), (2.08, -5.43), (2.04, -5.81), (2.13, -7.83), (2.16, 0.88), (2.19, -0.38),
    (2.24, -1.64), (2.19, -2.4), (2.24, -3.15), (2.16, -3.66), (2.24, -4.29), (2.19, -4.93),
    (2.24, -5.94), (2.28, 1.01), (2.32, -0.13), (2.35, -0.63), (2.32, -1.39), (2.35, -2.14),
    (2.4, -2.78), (2.32, -3.41), (2.35, -3.91), (2.4, -5.94), (2.35, -6.3), (2.4, 1.92),
    (2.45, 1.83), (2.48, 1.42), (2.48, 0.63), (2.52, 0.13), (2.48, -0.38), (2.45, -1.64),
    (2.52, -2.4), (2.48, -3.02), (2.56, -3.91), (2.61, -5.68), (2.56, 1.39), (2.64, 0.88),
    (2.68, 0.38), (2.72, -0.25), (2.64, -0.76), (2.72, -2.02), (2.64, -2.78), (2.68, -6.95),
    (2.77, 1.01), (2.8, 0.26), (2.84, -0.38), (2.8, -0.88), (2.88, -1.27), (2.84, -1.89),
    (2.88, -3.72), (2.88, -4.29), (2.88, -5.06), (2.88, -5.49), (2.93, 1.96), (2.96, 1.39),
    (2.93, -6.3), (2.88, -7.64), (2.96, 0.63),
    (3.04, -0.25), (3.04, -0.76), (3.09, -2.65), (3.04, -4.55), (3.12, -5.94), (3.16, 1.01),
    (3.2, 0.13), (3.16, -1.64), (3.2, -2.78), (3.16, -3.41), (3.2, -4.42), (3.16, -5.43),
    (3.25, -6.17), (3.28, -0.76), (3.32, -2.14), (3.36, -2.9), (3.32, -4.42), (3.28, -5.3),
    (3.32, -7.07), (3.41, 1.39), (3.44, 0.38), (3.44, -0.51), (3.44, -1.39), (3.48, -3.28),
    (3.41, -4.23), (3.48, -4.8), (3.44, -5.68), (3.41, -6.37), (3.44, -7.33), (3.52, 1.9),
    (3.57, 0.88), (3.6, 0.0), (3.57, -1.89), (3.6, -3.91), (3.57, -4.93), (3.6, -5.18),
    (3.52, -6.05), (3.57, -6.69), (3.68, 1.58), (3.68, 0.69), (3.72, -0.13), (3.68, -0.76),
    (3.64, -1.64), (3.72, -2.14), (3.68, -2.65), (3.64, -3.15), (3.72, -3.66), (3.68, -4.17),
    (3.64, -4.68), (3.72, -5.06), (3.68, -5.55), (3.64, -5.94), (3.72, -6.3), (3.68, -6.95),
    (3.76, -7.7), (3.8, 1.9), (3.85, 1.39), (3.8, 0.82), (3.85, 0.26), (3.89, -0.38), (3.85, -1.14),
    (3.8, -1.89), (3.89, -2.4), (3.85, -3.02), (3.8, -3.66), (3.89, -4.04), (3.85, -4.42),
    (3.8, -4.93), (3.89, -5.3), (3.85, -5.81), (3.8, -6.24), (3.89, -6.56), (3.85, -7.14),
    (3.96, 1.14), (3.93, 0.0), (3.96, -0.88), (3.93, -1.64), (3.98, -2.65), (3.93, -3.53),
    (3.96, -4.42), (3.93, -5.68), (3.96, -6.17),
    (3.5, -4.6), (3.75, -4.3), (4.0, -4.0), (4.2, -4.5), (3.9, -4.9), (3.6, -5.4), (4.1, -5.5),
    (3.7, -6.5), (4.0, -6.4), (3.8, -6.8), (4.3, -6.3), (3.4, -2.4), (3.7, -2.3), (4.0, -2.2),
    (4.2, -2.6), (3.8, -1.6), (4.1, -1.0), (3.6, 0.3), (3.9, 0.6), (4.2, 1.0), (3.7, 1.8),
    (4.2, -0.1), (3.4, -1.1),
    (4.05, 1.77), (4.09, 0.63), (4.05, -0.51), (4.11, -1.39), (4.05, -2.4), (4.09, -2.9),
    (4.11, -3.91), (4.05, -4.42), (4.09, -4.93), (4.11, -6.69), (4.17, 1.52), (4.21, 0.5),
    (4.24, -0.38), (4.21, -1.14), (4.24, -2.14), (4.21, -2.78), (4.24, -3.66), (4.27, -4.17),
    (4.21, -4.68), (4.33, 1.52), (4.37, -0.76), (4.37, -1.89), (4.33, -6.05), (4.44, -0.76),
    (4.41, -3.41), (4.49, 2.14), (4.49, 1.14), (4.49, -3.53), (4.54, -7.58), (4.57, -0.63),
    (4.6, -1.77), (4.57, -2.65), (4.57, -4.17), (4.57, -6.5), (4.65, 0.19), (4.7, -2.78),
    (4.65, -6.95), (4.73, 0.13), (4.76, -2.78), (4.81, 1.14), (4.85, -2.02), (4.85, -2.4),
    (4.81, -3.91), (4.85, -5.68), (4.92, -2.71), (4.97, -1.52), (5.01, -1.64), (4.97, -0.32),
    (5.05, -0.25),
    (5.21, 1.69), (5.34, 0.38), (5.5, -4.67), (5.53, -4.99), (5.77, 0.57), (5.77, 0.03),
    (5.93, -0.38), (6.86, -5.15), (6.86, -7.6),
]

y_ticks = [-9, -6, -3, 0, 3]
panel_xlabels = ['Rainfall (mm)', 'Wind Speed (m/s)', 'Temperature (\u00b0C)']
panel_tags = ['(a)', '(b)', '(c)']
legend_label = 'Sea level bias'

# ---------------- figure ----------------
W, H = 492, 1393
fig = plt.figure(figsize=(W / 100, H / 100), dpi=100)
dot_color = '#575757'
dot_size = 7.5


def px_rect(x0, x1, ytop, ybot):
    return [x0 / W, 1 - ybot / H, (x1 - x0) / W, (ybot - ytop) / H]


panels = [
    dict(rect=px_rect(64, 459, 39.5, 357), xlim=(-0.25, 3.0), major=0.5, minor=0.25,
         fmt='%.1f', legend_xy=(476, 4), legend_loc='upper right', tag_xy=(257, 442)),
    dict(rect=px_rect(64, 459, 505.7, 822.3), xlim=(0, 20), major=4, minor=2,
         fmt='%d', legend_xy=(482, 471), legend_loc='upper right', tag_xy=(257, 907)),
    dict(rect=px_rect(63, 459, 977.3, 1294.3), xlim=(-10, 9), major=4, minor=2,
         fmt='%d', legend_xy=(355, 942.5), legend_loc='upper left', tag_xy=(252, 1381)),
]

for i, p in enumerate(panels):
    ax = fig.add_axes(p['rect'])
    if i == 0:
        ax.scatter([0.0] * len(rain_zero_y), rain_zero_y, s=15, color=dot_color,
                   linewidths=0, zorder=3)
        pts = rain_pts
    elif i == 1:
        pts = wind_pts
    else:
        pts = temp_pts
    xs = [q[0] for q in pts]
    ys = [q[1] for q in pts]
    ax.scatter(xs, ys, s=dot_size, color=dot_color, linewidths=0, zorder=3)

    ax.set_xlim(*p['xlim'])
    ax.set_ylim(-9, 3)
    ax.set_yticks(y_ticks)
    ax.yaxis.set_minor_locator(MultipleLocator(1.5))
    ax.xaxis.set_major_locator(MultipleLocator(p['major']))
    ax.xaxis.set_minor_locator(MultipleLocator(p['minor']))
    ax.xaxis.set_major_formatter(FormatStrFormatter(p['fmt']))
    for side in ('top', 'right'):
        ax.spines[side].set_visible(False)
    for side in ('left', 'bottom'):
        ax.spines[side].set_linewidth(1.0)
        ax.spines[side].set_color('#222222')
    ax.tick_params(which='major', direction='out', length=4, width=1.0, color='#222222',
                   labelsize=11)
    ax.tick_params(axis='x', which='major', pad=6)
    ax.tick_params(axis='y', which='major', pad=2)
    ax.tick_params(which='minor', direction='out', length=2.5, width=0.8, color='#222222')
    for lab in ax.get_xticklabels() + ax.get_yticklabels():
        lab.set_fontweight('bold')
    ax.set_xlabel(panel_xlabels[i], fontsize=16, fontweight='bold', labelpad=10.5)
    ax.set_ylabel('Sea level bias (cm)', fontsize=16, fontweight='bold', labelpad=4)

    handle = Line2D([], [], linestyle='none', marker='o', markersize=2.6,
                    markerfacecolor=dot_color, markeredgewidth=0)
    lx, ly = p['legend_xy']
    fig.legend([handle], [legend_label], loc=p['legend_loc'],
               bbox_to_anchor=(lx / W, 1 - ly / H), bbox_transform=fig.transFigure,
               fancybox=False, framealpha=1, edgecolor='#777777', borderpad=0.25,
               handlelength=1.8, handletextpad=0.6, borderaxespad=0,
               prop={'weight': 'bold', 'size': 12})
    tx, ty = p['tag_xy']
    fig.text(tx / W, 1 - ty / H, panel_tags[i], ha='center', va='center', fontsize=12)

fig.savefig('out.png', dpi=100)
